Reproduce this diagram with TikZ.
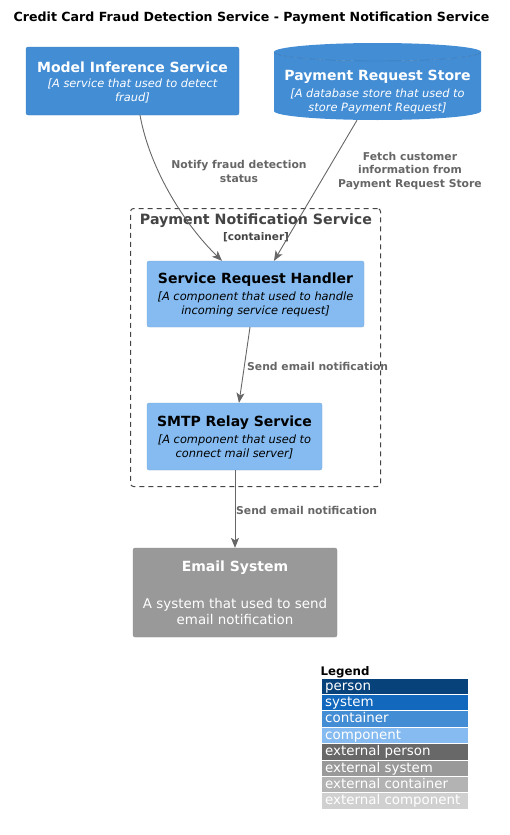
\documentclass[tikz,border=0pt]{standalone}
\usepackage{fontspec}
\setmainfont{DejaVu Sans}
\usetikzlibrary{arrows.meta,calc}
\definecolor{cperson}{HTML}{08427B}
\definecolor{csystem}{HTML}{1168BD}
\definecolor{ccontainer}{HTML}{438DD5}
\definecolor{ccomponent}{HTML}{85BBF0}
\definecolor{cextperson}{HTML}{686868}
\definecolor{cextsystem}{HTML}{999999}
\definecolor{cextcontainer}{HTML}{B3B3B3}
\definecolor{cextcomponent}{HTML}{D0D0D0}
\definecolor{carrow}{HTML}{666666}
\definecolor{cbound}{HTML}{444444}
\begin{document}
\begin{tikzpicture}[x=1pt,y=-1pt,
  boxbase/.style={rounded corners=2pt, inner sep=0pt, line width=0.3pt},
  contbox/.style={boxbase, fill=ccontainer, draw=ccontainer!90!black},
  compbox/.style={boxbase, fill=ccomponent, draw=ccomponent!90!black},
  extbox/.style={boxbase, fill=cextsystem, draw=cextsystem!90!black},
  ttl/.style={inner sep=0pt, font=\fontsize{14}{16}\selectfont\bfseries},
  dsc/.style={inner sep=0pt, align=center, font=\fontsize{11.4}{14}\selectfont\itshape},
  rel/.style={draw=carrow, line width=0.9pt, -{Stealth[length=10pt,width=8pt,inset=2.5pt]}},
  lbl/.style={text=carrow, font=\fontsize{10.8}{13.8}\selectfont\bfseries, align=center, inner sep=0pt},
  legrow/.style={draw=white, line width=0.8pt, minimum width=147, minimum height=16.4, inner sep=0pt, anchor=north west},
  legtxt/.style={text=white, anchor=base west, inner sep=0pt, font=\fontsize{13.4}{15}\selectfont}
]
\useasboundingbox (0,0) rectangle (510,835);

% title
\node[font=\fontsize{12.6}{16}\selectfont\bfseries, inner sep=0pt] (title) at (251.5,18) {Credit Card Fraud Detection Service - Payment Notification Service};

% Model Inference Service
\node[contbox, minimum width=213, minimum height=68] (mis) at (132.5,81) {};
\node[ttl, text=white] (misT) at (132.5,67) {Model Inference Service};
\node[dsc, text=white] (misD) at (132.5,91) {[A service that used to detect\\fraud]};

% Payment Request Store (cylinder)
\fill[ccontainer] (274,52) arc[start angle=180, end angle=360, x radius=103.5, y radius=-9]
   -- (481,111) arc[start angle=0, end angle=-180, x radius=103.5, y radius=-9] -- cycle;
\fill[ccontainer] (377.5,52) ellipse[x radius=103.5, y radius=9];
\draw[ccontainer!85!black, line width=0.4pt] (274,52) arc[start angle=180, end angle=360, x radius=103.5, y radius=-9];
\node[inner sep=0pt, minimum width=207, minimum height=77] (prs) at (377.5,81.5) {};
\node[ttl, text=white] (prsT) at (377.5,77) {Payment Request Store};
\node[dsc, text=white] (prsD) at (377.5,101) {[A database store that used to\\store Payment Request]};

% boundary
\node[draw=cbound, dash pattern=on 5pt off 4pt, line width=1pt, rounded corners=3pt, minimum width=250, minimum height=278, inner sep=0pt] (pns) at (255.5,347.5) {};
\node[text=cbound, font=\fontsize{14.2}{16}\selectfont\bfseries, inner sep=0pt] (pnsT) at (256,221) {Payment Notification Service};
\node[text=cbound, font=\fontsize{10.5}{12}\selectfont\bfseries, inner sep=0pt] (pnsC) at (256,237) {[container]};

% Service Request Handler
\node[compbox, minimum width=217, minimum height=66] (srh) at (255.5,294) {};
\node[ttl] (srhT) at (255.5,280) {Service Request Handler};
\node[dsc] (srhD) at (255.5,304) {[A component that used to handle\\incoming service request]};

% SMTP Relay Service
\node[compbox, minimum width=175, minimum height=67] (smtp) at (234.5,436.5) {};
\node[ttl] (smtpT) at (234.5,423) {SMTP Relay Service};
\node[dsc] (smtpD) at (234.5,447) {[A component that used to\\connect mail server]};

% Email System
\node[extbox, minimum width=204, minimum height=89] (email) at (235,592.5) {};
\node[inner sep=0pt, text=white, font=\fontsize{14}{16}\selectfont\bfseries] (emailT) at (235,568) {Email System};
\node[inner sep=0pt, text=white, align=center, font=\fontsize{13.4}{16}\selectfont] (emailD) at (235,611) {A system that used to send\\email notification};

% relations
\draw[rel] ([xshift=7.5]mis.south) .. controls ($(mis.south)+(17.5,55)$) and ($(srh.north)+(-70.5,-36)$) .. ([xshift=-33.5]srh.north);
\node[lbl] (l1) at (239,171.5) {Notify fraud detection\\status};

\draw[rel] ([xshift=-20.5]prs.south) -- ([xshift=18.5]srh.north);
\node[lbl] (l2) at (410,171) {Fetch customer\\information from\\Payment Request Store};

\draw[rel] ([xshift=-5.5]srh.south) -- ([xshift=4.5]smtp.north);
\node[lbl, anchor=west] (l3) at (247,366) {Send email notification};

\draw[rel] ([xshift=0.5]smtp.south) -- (email.north);
\node[lbl, anchor=west] (l4) at (236,510) {Send email notification};

% legend
\node[font=\fontsize{11.8}{16}\selectfont\bfseries, anchor=base west, inner sep=0pt] (legT) at (320.5,675) {Legend};
\node[legrow, fill=cperson] (lg1) at (320.5,677.5) {};
\node[legrow, fill=csystem] (lg2) at (320.5,693.9) {};
\node[legrow, fill=ccontainer] (lg3) at (320.5,710.3) {};
\node[legrow, fill=ccomponent] (lg4) at (320.5,726.7) {};
\node[legrow, fill=cextperson] (lg5) at (320.5,743.1) {};
\node[legrow, fill=cextsystem] (lg6) at (320.5,759.5) {};
\node[legrow, fill=cextcontainer] (lg7) at (320.5,775.9) {};
\node[legrow, fill=cextcomponent] (lg8) at (320.5,792.3) {};
\node[legtxt] (lt1) at ($(lg1.north west)+(4.5,12.5)$) {person};
\node[legtxt] (lt2) at ($(lg2.north west)+(4.5,12.5)$) {system};
\node[legtxt] (lt3) at ($(lg3.north west)+(4.5,12.5)$) {container};
\node[legtxt] (lt4) at ($(lg4.north west)+(4.5,12.5)$) {component};
\node[legtxt] (lt5) at ($(lg5.north west)+(4.5,12.5)$) {external person};
\node[legtxt] (lt6) at ($(lg6.north west)+(4.5,12.5)$) {external system};
\node[legtxt] (lt7) at ($(lg7.north west)+(4.5,12.5)$) {external container};
\node[legtxt] (lt8) at ($(lg8.north west)+(4.5,12.5)$) {external component};
\end{tikzpicture}
\end{document}
